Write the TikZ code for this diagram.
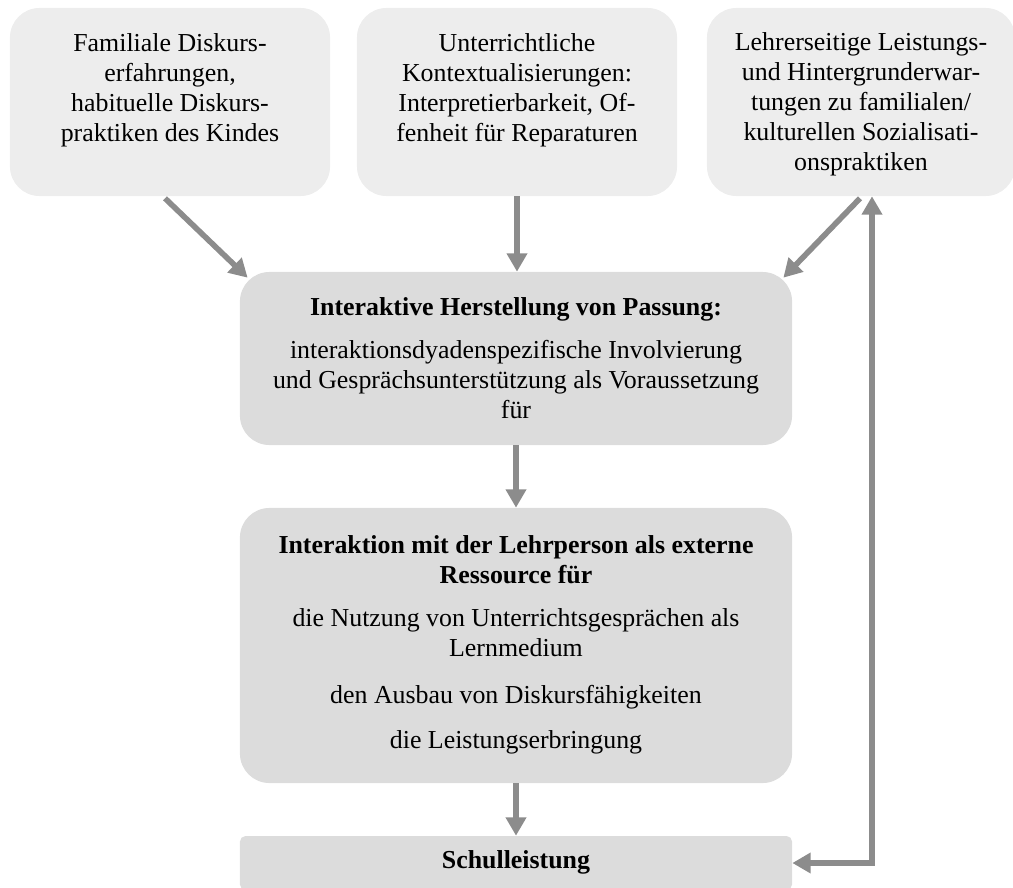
\documentclass[tikz,border=0pt]{standalone}
\usepackage{fontspec}
\setmainfont{Liberation Serif}
\usepackage{tikz}
\usepackage{xcolor}
\usetikzlibrary{arrows.meta,calc}
\definecolor{lightbox}{RGB}{237,237,237}
\definecolor{darkbox}{RGB}{220,220,220}
\definecolor{arrowgray}{RGB}{140,140,140}
\tikzset{
  topbox/.style={fill=lightbox, rounded corners=21pt, inner sep=0pt},
  midbox/.style={fill=darkbox, rounded corners=21pt, inner sep=0pt},
  flatbox/.style={fill=darkbox, rounded corners=4pt, inner sep=0pt},
  boxtext/.style={align=center, inner sep=0pt, font=\fontsize{18.4}{21.3}\selectfont},
  flow/.style={-{Triangle[length=13pt,width=14pt]}, line width=4pt, arrowgray},
  feedback/.style={flow, {Triangle[length=13pt,width=14pt]}-{Triangle[length=13pt,width=14pt]}},
}

\begin{document}
\begin{tikzpicture}[x=0.025cm, y=-0.025cm]

  \useasboundingbox (0,0) rectangle (1013,888);

  % top row
  \node[topbox, minimum width=8cm, minimum height=4.7cm] (fam) at (170,102) {};
  \node[topbox, minimum width=8cm, minimum height=4.7cm] (unter) at (517,102) {};
  \node[topbox, minimum width=7.7cm, minimum height=4.7cm] (lehr) at (861,102) {};

  \node[boxtext] (famtxt) at (170,90) {Familiale Diskurs-\\erfahrungen,\\habituelle Diskurs-\\praktiken des Kindes};
  \node[boxtext] (untertxt) at (517,90) {Unterrichtliche\\Kontextualisierungen:\\Interpretierbarkeit, Of-\\fenheit für Reparaturen};
  \node[boxtext] (lehrtxt) at (861,104) {Lehrerseitige Leistungs-\\und Hintergrunderwar-\\tungen zu familialen/\\kulturellen Sozialisati-\\onspraktiken};

  % middle column
  \node[midbox, minimum width=13.8cm, minimum height=4.325cm] (passung) at (516,358.5) {};
  \node[midbox, minimum width=13.8cm, minimum height=6.875cm] (ressource) at (516,645.5) {};
  \node[flatbox, minimum width=13.8cm, minimum height=1.35cm] (schule) at (516,863) {};

  \node[boxtext] (passungtxt) at (516,358) {\textbf{Interaktive Herstellung von Passung:}\\[9pt]
    interaktionsdyadenspezifische Involvierung\\und Gesprächsunterstützung als Voraussetzung\\für};
  \node[boxtext] (ressourcetxt) at (516,645) {\textbf{Interaktion mit der Lehrperson als externe}\\\textbf{Ressource für}\\[9pt]
    die Nutzung von Unterrichtsgesprächen als\\Lernmedium\\[12pt]
    den Ausbau von Diskursfähigkeiten\\[11pt]
    die Leistungserbringung};
  \node[boxtext] (schuletxt) at (516,862) {\textbf{Schulleistung}};

  % arrows into passung
  \draw[flow] ($(fam.south)+(-5,2)$) -- ($(passung.north west)+(8,6)$);
  \draw[flow] (unter.south) -- (unter.south |- passung.north);
  \draw[flow] ($(lehr.south)+(-1,2)$) -- ($(passung.north east)+(-9,6)$);

  % down the column
  \draw[flow] (passung.south) -- (ressource.north);
  \draw[flow] (ressource.south) -- (schule.north);

  % back to the teacher
  \draw[feedback] ($(lehr.south)+(11,0)$) |- (schule.east);

\end{tikzpicture}
\end{document}
